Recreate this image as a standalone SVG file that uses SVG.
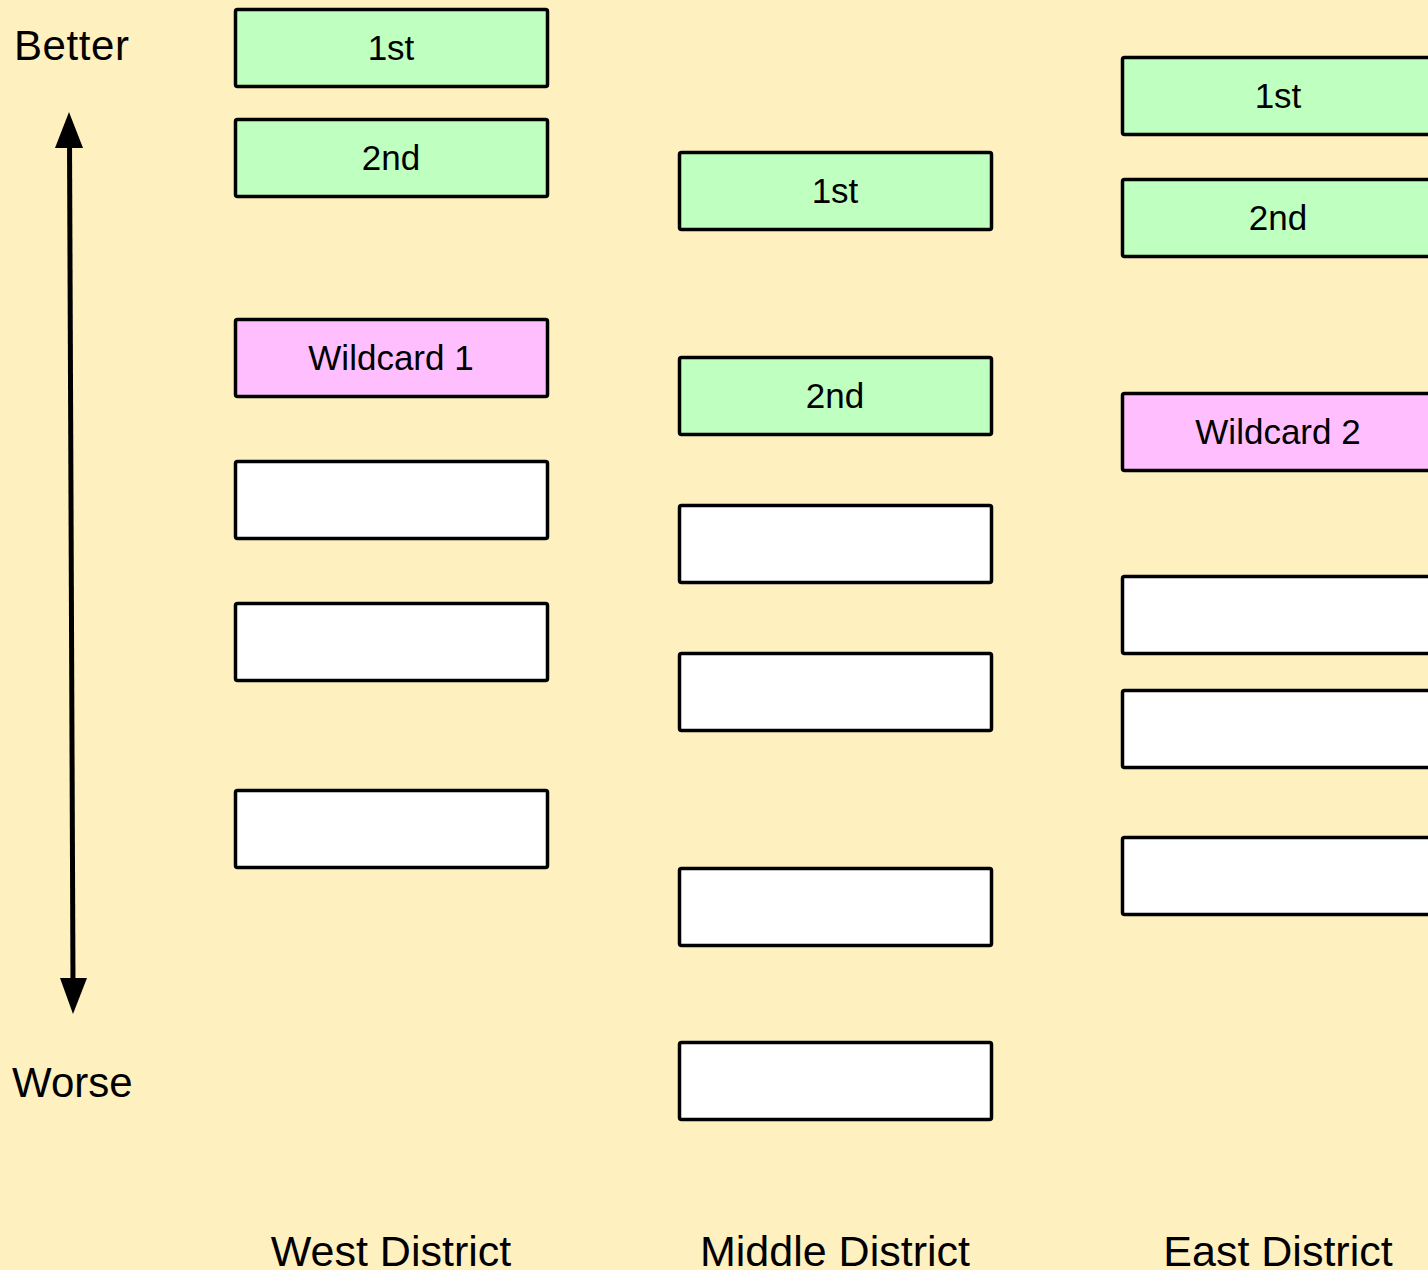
<svg xmlns="http://www.w3.org/2000/svg" width="1428" height="1270" viewBox="0 0 1428 1270">
<style>
.g{fill:#BFFFBF;stroke:#000;stroke-width:3.5}
.p{fill:#FFBFFF;stroke:#000;stroke-width:3.5}
.w{fill:#FFFFFF;stroke:#000;stroke-width:3.5}
.t{font-family:"Liberation Sans",Arial,sans-serif;font-size:35px;fill:#000;text-anchor:middle}
.l{font-family:"Liberation Sans",Arial,sans-serif;font-size:42px;fill:#000}
.d{font-family:"Liberation Sans",Arial,sans-serif;font-size:43px;fill:#000;text-anchor:middle}
</style>
<rect width="1428" height="1270" fill="#FFF0C0"/>
<g id="connectors">
<line x1="69.5" y1="140" x2="73" y2="985" stroke="#000" stroke-width="5"/>
<polygon points="69,112 83,148 55,148" fill="#000"/>
<polygon points="73,1014 87,978 60,978" fill="#000"/>
</g>
<g id="label-better"><text class="l" x="14" y="60" textLength="115">Better</text></g>
<g id="label-worse"><text class="l" x="12" y="1097">Worse</text></g>
<g id="w1"><rect class="g" x="235.5" y="9.5" width="312" height="77" rx="2"/><text class="t" x="391" y="60">1st</text></g>
<g id="w2"><rect class="g" x="235.5" y="119.5" width="312" height="77" rx="2"/><text class="t" x="391" y="170">2nd</text></g>
<g id="w3"><rect class="p" x="235.5" y="319.5" width="312" height="77" rx="2"/><text class="t" x="391" y="370">Wildcard 1</text></g>
<g id="w4"><rect class="w" x="235.5" y="461.5" width="312" height="77" rx="2"/></g>
<g id="w5"><rect class="w" x="235.5" y="603.5" width="312" height="77" rx="2"/></g>
<g id="w6"><rect class="w" x="235.5" y="790.5" width="312" height="77" rx="2"/></g>
<g id="m1"><rect class="g" x="679.5" y="152.5" width="312" height="77" rx="2"/><text class="t" x="835" y="203">1st</text></g>
<g id="m2"><rect class="g" x="679.5" y="357.5" width="312" height="77" rx="2"/><text class="t" x="835" y="408">2nd</text></g>
<g id="m3"><rect class="w" x="679.5" y="505.5" width="312" height="77" rx="2"/></g>
<g id="m4"><rect class="w" x="679.5" y="653.5" width="312" height="77" rx="2"/></g>
<g id="m5"><rect class="w" x="679.5" y="868.5" width="312" height="77" rx="2"/></g>
<g id="m6"><rect class="w" x="679.5" y="1042.5" width="312" height="77" rx="2"/></g>
<g id="e1"><rect class="g" x="1122.5" y="57.5" width="312" height="77" rx="2"/><text class="t" x="1278" y="108">1st</text></g>
<g id="e2"><rect class="g" x="1122.5" y="179.5" width="312" height="77" rx="2"/><text class="t" x="1278" y="230">2nd</text></g>
<g id="e3"><rect class="p" x="1122.5" y="393.5" width="312" height="77" rx="2"/><text class="t" x="1278" y="444">Wildcard 2</text></g>
<g id="e4"><rect class="w" x="1122.5" y="576.5" width="312" height="77" rx="2"/></g>
<g id="e5"><rect class="w" x="1122.5" y="690.5" width="312" height="77" rx="2"/></g>
<g id="e6"><rect class="w" x="1122.5" y="837.5" width="312" height="77" rx="2"/></g>
<g id="label-west"><text class="d" x="391" y="1266">West District</text></g>
<g id="label-middle"><text class="d" x="835" y="1266">Middle District</text></g>
<g id="label-east"><text class="d" x="1278" y="1266">East District</text></g>
</svg>
